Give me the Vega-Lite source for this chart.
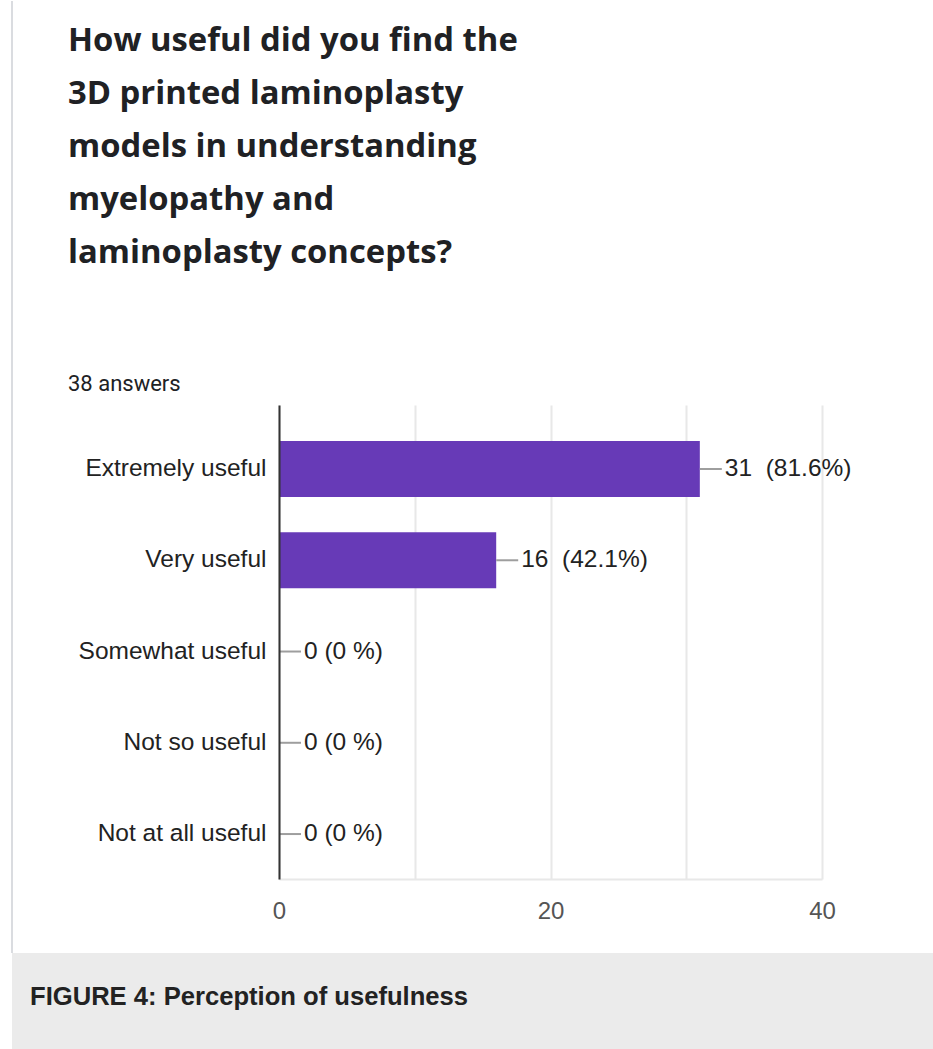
{
  "$schema": "https://vega.github.io/schema/vega-lite/v6.json",
  "background": "white",
  "padding": {"left": 11, "top": 0, "right": 0, "bottom": 0},
  "spacing": 0,
  "bounds": "flush",
  "config": {"font": "Arial", "view": {"stroke": null}},
  "vconcat": [
    {
      "width": 921,
      "height": 952,
      "view": {"fill": "white", "stroke": "#dadce0", "strokeWidth": 2, "strokeDash": [0, 2794, 952, 0]},
      "title": {
        "text": ["How useful did you find the", "3D printed laminoplasty", "models in understanding", "myelopathy and", "laminoplasty concepts?"],
        "subtitle": "38 answers",
        "anchor": "start",
        "frame": "group",
        "dx": 56,
        "offset": -394,
        "font": "Open Sans",
        "fontSize": 32.8,
        "fontWeight": "bold",
        "color": "#202124",
        "lineHeight": 53,
        "subtitleFont": "Roboto",
        "subtitleFontSize": 22,
        "subtitleColor": "#202124",
        "subtitlePadding": 104
      },
      "data": {
        "values": [
          {"answer": "Extremely useful", "count": 31, "pct": "(81.6%)"},
          {"answer": "Very useful", "count": 16, "pct": "(42.1%)"},
          {"answer": "Somewhat useful", "count": 0, "pct": "(0 %)"},
          {"answer": "Not so useful", "count": 0, "pct": "(0 %)"},
          {"answer": "Not at all useful", "count": 0, "pct": "(0 %)"}
        ]
      },
      "transform": [{"calculate": "datum.count + (datum.count > 0 ? '\u00a0 ' : ' ') + datum.pct", "as": "label"}],
      "encoding": {
        "y": {
          "field": "answer",
          "type": "nominal",
          "sort": null,
          "scale": {"range": [404, 878], "paddingInner": 0.386, "paddingOuter": 0.29, "align": 0.68},
          "axis": {
            "title": null,
            "orient": "left",
            "offset": -267,
            "domainColor": "#333333",
            "domainWidth": 2,
            "ticks": false,
            "grid": false,
            "labelPadding": 13,
            "labelFontSize": 24.5,
            "labelColor": "#222222",
            "labelLimit": 0,
            "zindex": 1
          }
        },
        "x": {
          "field": "count",
          "type": "quantitative",
          "scale": {"domain": [0, 40], "range": [267, 810], "nice": false},
          "axis": {
            "title": null,
            "orient": "top",
            "offset": -878,
            "values": [0, 10, 20, 30, 40],
            "labelExpr": "datum.value % 20 === 0 ? datum.label : ''",
            "labelFlush": false,
            "labelOverlap": false,
            "labelBaseline": "alphabetic",
            "labelPadding": -39,
            "ticks": false,
            "domain": true,
            "domainColor": "#e8e8e8",
            "domainWidth": 2,
            "grid": true,
            "gridColor": "#e8e8e8",
            "gridWidth": 2,
            "labelFontSize": 24,
            "labelColor": "#555555"
          }
        }
      },
      "layer": [
        {"mark": {"type": "bar", "color": "#673ab7"}},
        {
          "mark": {"type": "rule", "color": "#9e9e9e", "strokeWidth": 2, "x2Offset": 22},
          "encoding": {"x2": {"field": "count"}}
        },
        {
          "mark": {"type": "text", "align": "left", "baseline": "middle", "dx": 25, "fontSize": 24.5, "color": "#222222"},
          "encoding": {"text": {"field": "label"}}
        }
      ]
    },
    {
      "width": 921,
      "height": 97,
      "view": {"fill": "#ebebeb", "stroke": null},
      "title": {
        "text": "FIGURE 4: Perception of usefulness",
        "anchor": "start",
        "frame": "group",
        "dx": 18,
        "offset": -58,
        "font": "Arial",
        "fontSize": 25.6,
        "fontWeight": "bold",
        "color": "#222222"
      },
      "data": {"values": []},
      "mark": "text"
    }
  ]
}
